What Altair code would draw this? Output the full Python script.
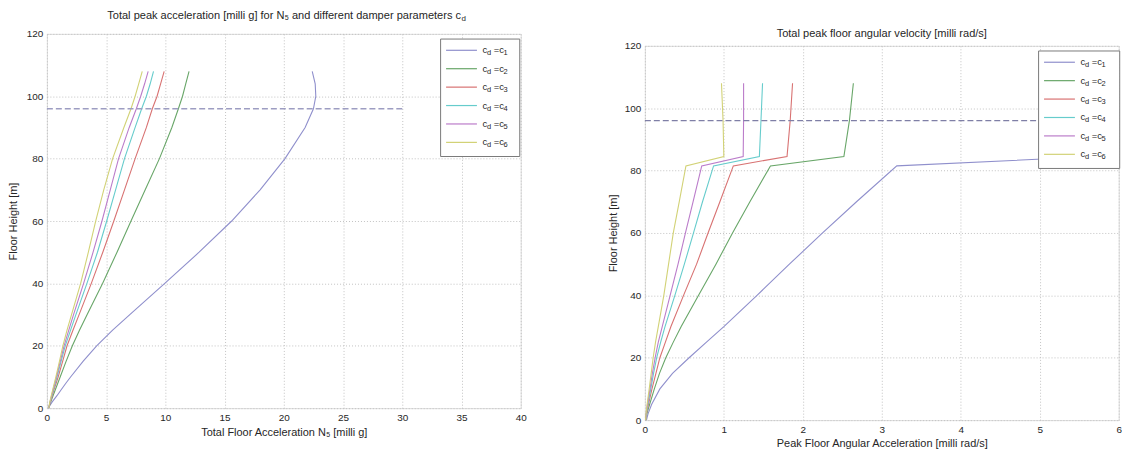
import altair as alt
import pandas as pd

FONT = "Liberation Sans"
TXT = "#262626"

series = ["c1", "c2", "c3", "c4", "c5", "c6"]
sub_digits = ["1", "2", "3", "4", "5", "6"]
colors = ["#8f8fcc", "#68a668", "#d87272", "#66cccc", "#bb7cca", "#d2d276"]

# ---- left panel: total peak acceleration [milli g]
left_heights = [0, 2, 4, 6, 8, 10, 15, 20, 25, 30, 40, 50, 60, 70, 80, 90, 96, 100, 104, 108]
left_c1 = [0.1, 0.45, 0.85, 1.22, 1.6, 2.0, 3.05, 4.2, 5.55, 7.0, 9.95, 12.85, 15.6, 18.0, 20.1, 21.8, 22.5, 22.7, 22.65, 22.4]
left_c2 = [0.15, 0.33, 0.52, 0.72, 0.92, 1.12, 1.62, 2.15, 2.75, 3.4, 4.7, 5.92, 7.1, 8.3, 9.5, 10.55, 11.1, 11.45, 11.72, 12.0]
left_c3 = [0.15, 0.3, 0.45, 0.6, 0.78, 0.95, 1.33, 1.7, 2.2, 2.72, 3.75, 4.72, 5.65, 6.55, 7.45, 8.4, 8.9, 9.3, 9.6, 9.9]
left_c4 = [0.15, 0.28, 0.42, 0.56, 0.71, 0.86, 1.2, 1.55, 2.0, 2.45, 3.38, 4.27, 5.05, 5.8, 6.55, 7.45, 8.0, 8.4, 8.72, 9.0]
left_c5 = [0.15, 0.27, 0.4, 0.53, 0.67, 0.81, 1.13, 1.45, 1.85, 2.25, 3.1, 3.9, 4.65, 5.35, 6.05, 6.95, 7.55, 7.92, 8.25, 8.55]
left_c6 = [0.15, 0.25, 0.37, 0.5, 0.63, 0.76, 1.06, 1.35, 1.7, 2.08, 2.85, 3.5, 4.12, 4.8, 5.55, 6.5, 7.1, 7.45, 7.75, 8.05]

# ---- right panel: peak floor angular velocity [milli rad/s]
right_heights = [0, 2, 5, 10, 15, 20, 25, 30, 40, 50, 60, 70, 81.5, 84.5, 96, 108]
right_c1 = [0.02, 0.04, 0.085, 0.19, 0.35, 0.56, 0.78, 1.0, 1.42, 1.83, 2.25, 2.68, 3.19, 5.7, 5.7, 5.7]
right_c2 = [0.01, 0.025, 0.06, 0.12, 0.185, 0.265, 0.36, 0.46, 0.68, 0.9, 1.11, 1.33, 1.59, 2.52, 2.59, 2.64]
right_c3 = [0.01, 0.02, 0.045, 0.09, 0.14, 0.19, 0.26, 0.33, 0.49, 0.655, 0.8, 0.95, 1.12, 1.80, 1.84, 1.87]
right_c4 = [0.01, 0.018, 0.038, 0.075, 0.11, 0.15, 0.2, 0.255, 0.38, 0.5, 0.616, 0.73, 0.87, 1.45, 1.47, 1.49]
right_c5 = [0.01, 0.016, 0.033, 0.065, 0.095, 0.13, 0.17, 0.22, 0.32, 0.42, 0.514, 0.61, 0.72, 1.245, 1.25, 1.25]
right_c6 = [0.01, 0.014, 0.028, 0.055, 0.08, 0.105, 0.135, 0.17, 0.24, 0.3, 0.36, 0.435, 0.52, 1.0, 0.99, 0.97]

left_x_ticks = [0, 5, 10, 15, 20, 25, 30, 35, 40]
right_x_ticks = [0, 1, 2, 3, 4, 5, 6]
y_ticks = [0, 20, 40, 60, 80, 100, 120]

ref_height = 96
left_ref_x = [0, 30]
right_ref_x = [0, 6]

left_title = "Total peak acceleration [milli g] for N\u2085 and different damper parameters c"
left_title_sub = "d"
right_title = "Total peak floor angular velocity [milli rad/s]"
left_xlabel = "Total Floor Acceleration N\u2085 [milli g]"
right_xlabel = "Peak Floor Angular Acceleration [milli rad/s]"
ylabel = "Floor Height [m]"

W, H = 476, 376


def long_df(heights, cols):
    rows = []
    for s, vals in zip(series, cols):
        for i, (h, v) in enumerate(zip(heights, vals)):
            rows.append({"series": s, "height": h, "value": v, "order": i})
    return pd.DataFrame(rows)


color_scale = alt.Scale(domain=series, range=colors)


def axis_x(title, ticks):
    return alt.Axis(title=title, values=ticks, format="d", grid=True, gridColor="#c2c2c2",
                    gridDash=[1, 2], gridWidth=1, ticks=False, tickSize=0, domain=False,
                    labelPadding=4, labelFontSize=10, labelColor=TXT, labelFont=FONT,
                    titleFontSize=11, titleFont=FONT, titleFontWeight="normal",
                    titleColor=TXT, titleY=24, titleBaseline="middle", labelFlush=False)


def axis_y(title_x):
    return alt.Axis(title=ylabel, values=y_ticks, format="d", grid=True, gridColor="#c2c2c2",
                    gridDash=[1, 2], gridWidth=1, ticks=False, tickSize=0, domain=False,
                    labelPadding=4, labelFontSize=10, labelColor=TXT, labelFont=FONT,
                    titleFontSize=11, titleFont=FONT, titleFontWeight="normal",
                    titleColor=TXT, titleX=title_x, titleBaseline="middle",
                    titleAlign="center", labelFlush=False)


legend_df = pd.DataFrame({"series": series, "digit": sub_digits,
                          "c": ["c"] * 6, "d": ["d"] * 6, "eq": ["=c"] * 6})


def legend_layers(box_x1):
    ysc = alt.Y("series:N", scale=alt.Scale(type="point", domain=series,
                                           range=[16.5, 16.5 + 5 * 18.5], padding=0),
                axis=None)
    base = alt.Chart(legend_df)
    box = alt.Chart(pd.DataFrame({"k": [0]})).mark_rect(
        fill="white", stroke="#7a7a7a", strokeWidth=1).encode(
        x=alt.value(395.5), x2=alt.value(box_x1), y=alt.value(5.2), y2=alt.value(123.2))
    lines = base.mark_rule(strokeWidth=1.2).encode(
        x=alt.value(401), x2=alt.value(432), y=ysc,
        color=alt.Color("series:N", scale=color_scale, legend=None))
    t_c = base.mark_text(align="left", baseline="middle", fontSize=9.5, font=FONT,
                         color=TXT).encode(x=alt.value(437.5), y=ysc, text="c:N")
    t_d = base.mark_text(align="left", baseline="middle", fontSize=7.5, font=FONT,
                         color=TXT, dy=3).encode(x=alt.value(442.2), y=ysc, text="d:N")
    t_eq = base.mark_text(align="left", baseline="middle", fontSize=9.5, font=FONT,
                          color=TXT).encode(x=alt.value(448.8), y=ysc, text="eq:N")
    t_n = base.mark_text(align="left", baseline="middle", fontSize=7.5, font=FONT,
                         color=TXT, dy=3).encode(x=alt.value(458.6), y=ysc, text="digit:N")
    return [box, lines, t_c, t_d, t_eq, t_n]


def panel(df, xticks, xdom, xlabel, ref_x, ref_color, title_x, box_x1):
    lines = alt.Chart(df).mark_line(strokeWidth=1.1).encode(
        x=alt.X("value:Q", scale=alt.Scale(domain=xdom, nice=False), axis=axis_x(xlabel, xticks)),
        y=alt.Y("height:Q", scale=alt.Scale(domain=[0, 120], nice=False), axis=axis_y(title_x)),
        color=alt.Color("series:N", scale=color_scale, legend=None),
        order=alt.Order("order:Q"),
    )
    ref = alt.Chart(pd.DataFrame({"x0": [ref_x[0]], "x1": [ref_x[1]], "h": [ref_height]})).mark_rule(
        color=ref_color, strokeWidth=1.3, strokeDash=[6, 3]).encode(
        x="x0:Q", x2="x1:Q", y="h:Q")
    main = alt.layer(lines, ref)
    return main, legend_layers(box_x1)


def spacer(h):
    return alt.Chart(pd.DataFrame({"k": [0]})).mark_point(opacity=0, size=1).encode(
        x=alt.value(0.5), y=alt.value(h / 2)).properties(
        width=1, height=h, view=alt.ViewBackground(stroke="transparent"))


left_df = long_df(left_heights, [left_c1, left_c2, left_c3, left_c4, left_c5, left_c6])
right_df = long_df(right_heights, [right_c1, right_c2, right_c3, right_c4, right_c5, right_c6])

lmain, lleg = panel(left_df, left_x_ticks, [0, 40], left_xlabel, left_ref_x, "#9d9dc2", -34, 475)
rmain, rleg = panel(right_df, right_x_ticks, [0, 6], right_xlabel, right_ref_x, "#7f7fa6", -31.7, 477)

ltitle_df = pd.DataFrame({"t": [left_title], "s": [left_title_sub]})
ltitle = alt.Chart(ltitle_df).mark_text(align="right", baseline="middle", fontSize=11.1,
                                         font=FONT, color=TXT).encode(
    x=alt.value(416), y=alt.value(-17.5), text="t:N")
ltitle_sub = alt.Chart(ltitle_df).mark_text(align="left", baseline="middle", fontSize=8,
                                             font=FONT, color=TXT, dy=3).encode(
    x=alt.value(416.4), y=alt.value(-17.5), text="s:N")

rtitle = alt.Chart(pd.DataFrame({"t": [right_title]})).mark_text(
    align="center", baseline="middle", fontSize=11.1, font=FONT, color=TXT).encode(
    x=alt.value(W / 2), y=alt.value(-12), text="t:N")

left = alt.layer(lmain, *lleg, ltitle, ltitle_sub).resolve_scale(y="independent").properties(
    width=W, height=H)
right = alt.layer(rmain, *rleg, rtitle).resolve_scale(y="independent").properties(
    width=W, height=H)

left_col = alt.vconcat(spacer(3.45), left, spacing=0)
right_col = alt.vconcat(spacer(20.0), right, spacing=0)

chart = alt.hconcat(left_col, right_col, spacing=78.7).properties(
    padding={"left": 6.1, "top": 4, "right": 0, "bottom": 0},
    background="white",
).configure_view(stroke="#8c8c8c", strokeWidth=1).configure(font=FONT)

chart.save("out.html", embed_options={"renderer": "svg", "actions": False})
